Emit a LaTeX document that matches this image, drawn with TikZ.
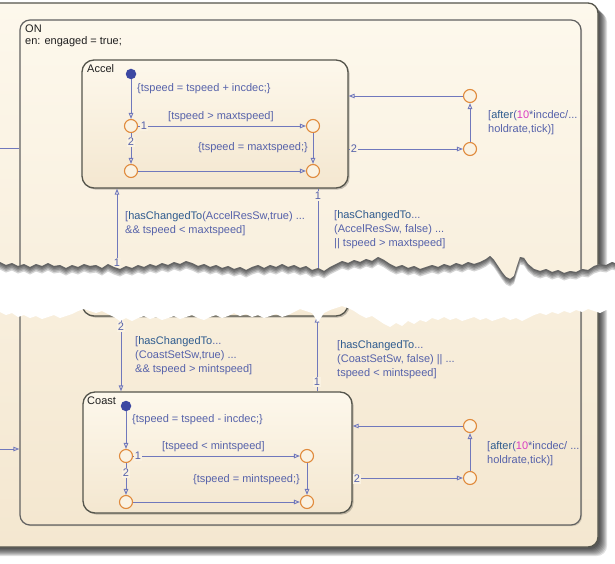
\documentclass[tikz,border=0pt]{standalone}
\usepackage{fontspec}
\setmainfont{Liberation Sans}
\usetikzlibrary{arrows.meta}
\definecolor{trc}{HTML}{7078BC}
\definecolor{lbl}{HTML}{5662AA}
\definecolor{kwc}{HTML}{2E5B8E}
\definecolor{numc}{HTML}{D93DC3}
\definecolor{junc}{HTML}{E08A3C}
\definecolor{dotc}{HTML}{3C48A2}
\definecolor{bordc}{HTML}{55554C}
\definecolor{cTop}{HTML}{FDF8EC}
\definecolor{cBot}{HTML}{F4E7D0}
\definecolor{cMid}{HTML}{FAF2E2}
\newcommand\KW[1]{\textcolor{kwc}{#1}}
\newcommand\NUMC[1]{\textcolor{numc}{#1}}
\tikzset{
  txt/.style={font=\fontsize{11}{14}\selectfont, inner sep=0pt, align=left},
  lab/.style={txt, text=lbl},
  stname/.style={txt, text=black!88},
  tnum/.style={txt, text=lbl, fill=cMid, inner sep=1pt},
  stbox/.style={draw=bordc, line width=1.3pt, rounded corners=12pt, top color=cTop, bottom color=cBot, inner sep=0pt,
    preaction={fill=black, fill opacity=0.22, transform canvas={shift={(1.6pt,-1.6pt)}}}},
  juncn/.style={circle, draw=junc, line width=1.1pt, fill=cMid, minimum size=13pt, inner sep=0pt},
  defdot/.style={circle, fill=dotc, minimum size=10.5pt, inner sep=0pt},
  trans/.style={draw=trc, line width=0.9pt, -{Triangle[open, length=6pt, width=4.5pt]}},
  tline/.style={draw=trc, line width=0.9pt},
  tearT/.style={insert path={-- (6,265) -- (12,263) -- (18,266) -- (24,264) -- (30,267) -- (36,264) -- (42,266) -- (48,263) -- (54,266) -- (60,265) -- (66,268) -- (72,265) -- (78,267) -- (84,264) -- (90,266) -- (96,265) -- (102,268) -- (108,264) -- (114,267) -- (120,269) -- (126,266) -- (132,268) -- (138,265) -- (144,267) -- (150,264) -- (156,266) -- (162,263) -- (168,265) -- (174,262) -- (180,264) -- (186,261) -- (192,263) -- (198,266) -- (204,264) -- (210,267) -- (216,265) -- (222,268) -- (228,266) -- (234,269) -- (240,267) -- (246,270) -- (252,267) -- (258,265) -- (264,268) -- (270,265) -- (276,267) -- (282,264) -- (288,267) -- (294,265) -- (300,268) -- (306,266) -- (312,270) -- (318,268) -- (324,271) -- (330,267) -- (336,264) -- (342,261) -- (348,263) -- (354,260) -- (360,262) -- (366,259) -- (372,261) -- (378,257) -- (384,260) -- (390,264) -- (396,267) -- (402,265) -- (408,268) -- (414,266) -- (420,269) -- (426,267) -- (432,265) -- (438,267) -- (444,264) -- (450,266) -- (456,263) -- (462,265) -- (468,262) -- (474,264) -- (480,262) -- (486,259) -- (490,256) -- (494,260) -- (498,266) -- (502,272) -- (506,277) -- (510,279) -- (514,276) -- (517,266) -- (520,257) -- (524,258) -- (528,264) -- (534,269) -- (540,271) -- (546,269) -- (552,272) -- (558,270) -- (564,273) -- (570,271) -- (576,272) -- (582,269) -- (588,270) -- (594,266) -- (600,264) -- (606,265) -- (612,262) -- (615,263)}},
  tearB/.style={insert path={-- (612,312) -- (606,310) -- (600,313) -- (594,311) -- (588,309) -- (582,312) -- (576,310) -- (570,313) -- (564,311) -- (558,314) -- (552,312) -- (546,315) -- (540,313) -- (534,315) -- (528,318) -- (522,321) -- (516,318) -- (510,320) -- (504,317) -- (498,319) -- (492,321) -- (486,318) -- (480,320) -- (474,317) -- (468,319) -- (462,321) -- (456,318) -- (450,320) -- (444,317) -- (438,320) -- (432,318) -- (426,322) -- (420,320) -- (414,324) -- (408,321) -- (402,326) -- (396,323) -- (390,327) -- (384,324) -- (378,320) -- (372,316) -- (366,318) -- (360,315) -- (354,311) -- (348,308) -- (342,306) -- (336,308) -- (330,310) -- (324,313) -- (318,322) -- (312,313) -- (306,311) -- (300,309) -- (294,312) -- (288,315) -- (282,317) -- (276,314) -- (270,316) -- (264,318) -- (258,315) -- (252,317) -- (246,314) -- (240,316) -- (234,313) -- (228,316) -- (222,318) -- (216,315) -- (210,317) -- (204,320) -- (198,318) -- (192,315) -- (186,317) -- (180,319) -- (174,316) -- (168,318) -- (162,320) -- (156,317) -- (150,319) -- (144,316) -- (138,318) -- (132,321) -- (126,318) -- (120,321) -- (114,317) -- (108,314) -- (102,311) -- (96,313) -- (90,311) -- (84,309) -- (78,311) -- (72,314) -- (66,316) -- (60,318) -- (54,315) -- (48,317) -- (42,319) -- (36,316) -- (30,318) -- (24,315) -- (18,317) -- (12,313) -- (6,315) -- (0,312)}},
}
\begin{document}
\begin{tikzpicture}[x=1pt,y=-1pt]
\useasboundingbox (0,0) rectangle (615,564);
\clip (0,0) rectangle (615,564);
\fill[white] (0,0) rectangle (615,564);
% outer state shadow
\foreach \k in {2,3,...,9}
  \fill[black, fill opacity=0.12, rounded corners=10pt] (-20+\k,3+\k) rectangle (598+\k,547+\k);
\node[draw=bordc, line width=1.3pt, rounded corners=10pt, top color=cTop, bottom color=cBot,
      minimum width=618pt, minimum height=544pt, inner sep=0pt] (Outer) at (289,275) {};
% ON state
\node[draw=black!62, line width=1.2pt, rounded corners=10pt, top color=cTop, bottom color=cBot,
      minimum width=561pt, minimum height=505pt, inner sep=0pt,
      preaction={fill=black, fill opacity=0.15, transform canvas={shift={(1.2pt,-1.2pt)}}}] (ON) at (300.5,272.5) {};
\node[stname, anchor=west] (ONname) at (25,29) {ON};
\node[stname, anchor=west] (ONen) at (25,42) {en: engaged = true;};
% sub-states
\node[stbox, minimum width=266pt, minimum height=128pt] (Accel) at (215,124) {};
\node[stbox, minimum width=266pt, minimum height=28pt] (Hold) at (215,302) {};
\node[stbox, minimum width=269pt, minimum height=121pt] (Coast) at (217.5,452.5) {};
\node[stname, anchor=west] (Accelname) at (87,69) {Accel};
\node[stname, anchor=west] (Coastname) at (87,401) {Coast};
% Accel internals
\node[defdot] (adot) at (131,74) {};
\node[juncn] (a1) at (131,126) {};
\node[juncn] (a2) at (313,126) {};
\node[juncn] (a3) at (131,171) {};
\node[juncn] (a4) at (313,171) {};
\node[juncn] (a5) at (470,96) {};
\node[juncn] (a6) at (470,149) {};
\draw[trans] (adot) -- (a1);
\draw[trans] (a1) -- (a2);
\draw[trans] (a1) -- (a3);
\draw[trans] (a2) -- (a4);
\draw[trans] (a3) -- (a4);
\draw[trans] (a5) -- (a5 -| Accel.east);
\draw[trans] (a6 -| Accel.east) -- (a6);
\draw[trans] (a6) -- (a5);
\node[tnum] (na1) at (144,126) {1};
\node[tnum] (na2) at (131,142) {2};
\node[tnum] (na3) at (354,149) {2};
\node[lab, anchor=west] (la1) at (137,89) {\{tspeed = tspeed + incdec;\}};
\node[lab, anchor=west] (la2) at (168,117) {[tspeed > maxtspeed]};
\node[lab, anchor=east] (la3) at (308,148) {\{tspeed = maxtspeed;\}};
\node[lab, anchor=north west] (la4) at (488,110.5) {[\KW{after}(\NUMC{10}*incdec/...\\holdrate,tick)]};
% Coast internals
\node[defdot] (cdot) at (126,406) {};
\node[juncn] (c1) at (126,456) {};
\node[juncn] (c2) at (307,456) {};
\node[juncn] (c3) at (126,502) {};
\node[juncn] (c4) at (307,502) {};
\node[juncn] (c5) at (470,426) {};
\node[juncn] (c6) at (470,478) {};
\draw[trans] (cdot) -- (c1);
\draw[trans] (c1) -- (c2);
\draw[trans] (c1) -- (c3);
\draw[trans] (c2) -- (c4);
\draw[trans] (c3) -- (c4);
\draw[trans] (c5) -- (c5 -| Coast.east);
\draw[trans] (c6 -| Coast.east) -- (c6);
\draw[trans] (c6) -- (c5);
\node[tnum] (nc1) at (138,456) {1};
\node[tnum] (nc2) at (126,473) {2};
\node[tnum] (nc3) at (357,479) {2};
\node[lab, anchor=west] (lc1) at (132,420) {\{tspeed = tspeed - incdec;\}};
\node[lab, anchor=west] (lc2) at (162,447) {[tspeed < mintspeed]};
\node[lab, anchor=east] (lc3) at (300,480) {\{tspeed = mintspeed;\}};
\node[lab, anchor=north west] (lc4) at (487,441.5) {[\KW{after}(\NUMC{10}*incdec/ ...\\holdrate,tick)]};
% transitions between states
\coordinate (xa) at (117,0);
\coordinate (xb) at (318,0);
\coordinate (xc) at (121,0);
\coordinate (xd) at (317,0);
\draw[trans] (xa |- Hold.north) -- (xa |- Accel.south);
\draw[trans] (xb |- Accel.south) -- (xb |- Hold.north);
\draw[trans] (xc |- Hold.south) -- (xc |- Coast.north);
\draw[trans] (xd |- Coast.north) -- (xd |- Hold.south);
\node[tnum] (nt1) at (117,263) {1};
\node[tnum] (nt2) at (318,196) {1};
\node[tnum] (nt3) at (121,327) {2};
\node[tnum] (nt4) at (317,382) {1};
\node[lab, anchor=north west] (lt1) at (125,211.5) {[\KW{hasChangedTo}(AccelResSw,true) ...\\\&\& tspeed < maxtspeed]};
\node[lab, anchor=north west] (lt2) at (334,210.5) {[\KW{hasChangedTo}...\\(AccelResSw, false) ...\\|| tspeed > maxtspeed]};
\node[lab, anchor=north west] (lt3) at (135,336.5) {[\KW{hasChangedTo}...\\(CoastSetSw,true) ...\\\&\& tspeed > mintspeed]};
\node[lab, anchor=north west] (lt4) at (337,340.5) {[\KW{hasChangedTo}...\\(CoastSetSw, false) || ...\\tspeed < mintspeed]};
% transitions crossing the ON border
\coordinate (outA) at (0,148);
\coordinate (outB) at (0,449);
\draw[tline] (ON.west |- outA) -- (outA);
\draw[trans] (outB) -- (outB -| ON.west);
% torn band
\fill[white] (-5,262) -- (0,262) [tearT] -- (620,263) -- (620,312) -- (615,311) [tearB] -- (-5,312) -- cycle;
\begin{scope}
  \clip (-5,262) -- (0,262) [tearT] -- (620,263) -- (620,312) -- (615,311) [tearB] -- (-5,312) -- cycle;
  \foreach \s in {1.5,3,4.5,6,7.5}
    \fill[black, fill opacity=0.17, yshift=-\s pt] (-5,200) -- (-5,262) -- (0,262) [tearT] -- (620,263) -- (620,200) -- cycle;
\end{scope}
\end{tikzpicture}
\end{document}
